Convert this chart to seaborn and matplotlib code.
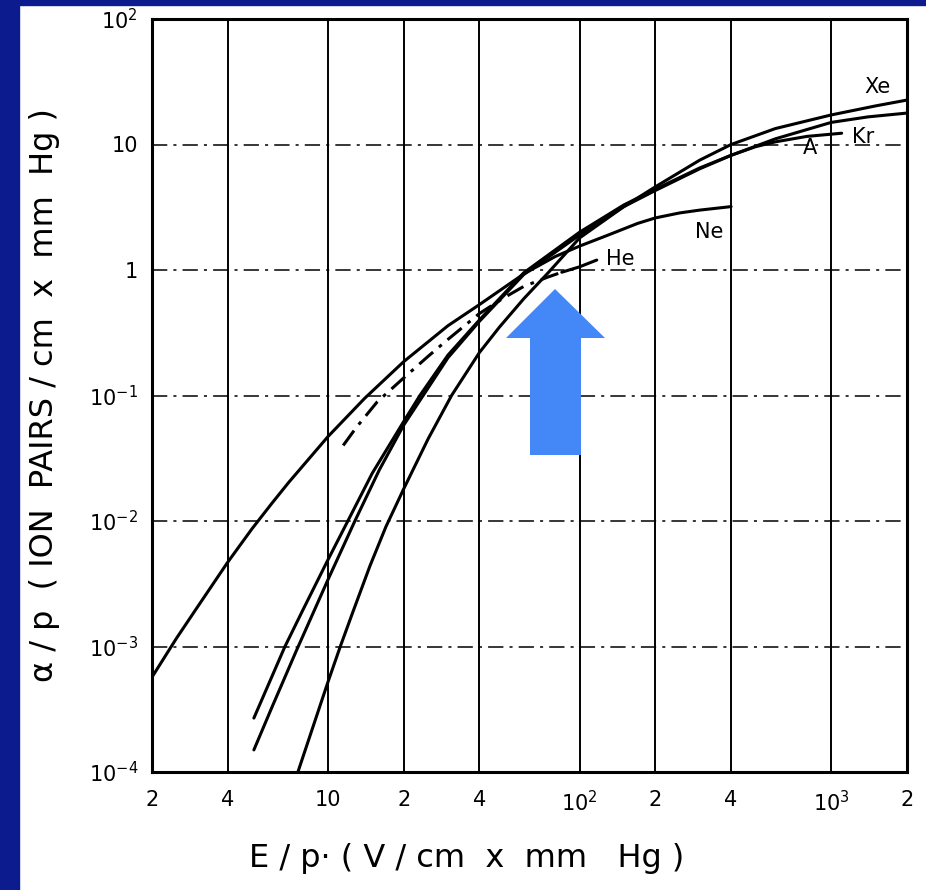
import matplotlib
matplotlib.use("Agg")
import matplotlib.pyplot as plt
import seaborn as sns
from matplotlib.patches import Polygon, Rectangle
from matplotlib.ticker import FixedLocator, FixedFormatter, NullLocator

# ---------------- data ----------------
ne_x = [2, 2.5, 3, 4, 5, 6, 7, 10, 14, 20, 30, 40, 60, 80, 100, 130, 170, 200,
        250, 300, 400]
ne_y = [5.7e-4, 1.16e-3, 2.0e-3, 4.7e-3, 8.7e-3, 0.0139, 0.0204, 0.047, 0.095,
        0.186, 0.36, 0.53, 0.93, 1.28, 1.55, 1.9, 2.35, 2.6, 2.85, 3.0, 3.2]

he_x = [11.5, 13, 15.7, 20, 25, 30, 40, 50, 60, 75, 85, 100, 117]
he_y = [0.040, 0.056, 0.089, 0.138, 0.205, 0.28, 0.45, 0.60, 0.74, 0.88, 0.96, 1.06, 1.2]
he_solid_from = 10   # index where the He curve turns from dash-dot to solid

xe_x = [7.6, 10, 11.2, 12.5, 14.7, 17, 20, 25, 31, 40, 48, 60, 75, 100, 150, 200,
        300, 400, 600, 1000, 1500, 2000]
xe_y = [1e-4, 5.2e-4, 1e-3, 1.83e-3, 4.4e-3, 9.0e-3, 0.018, 0.045, 0.1, 0.22, 0.35,
        0.59, 0.95, 1.8, 3.2, 4.6, 7.5, 10.0, 13.4, 17.2, 20.3, 22.6]

kr_x = [5.08, 6.75, 8, 10, 12, 15, 20, 23.2, 30, 40, 60, 100, 150, 200, 300, 400,
        600, 1000, 1400, 2000]
kr_y = [2.69e-4, 1e-3, 2.0e-3, 4.9e-3, 1e-2, 0.024, 0.062, 0.1, 0.21, 0.40, 0.95,
        2.0, 3.3, 4.4, 6.5, 8.2, 11.1, 15.0, 16.6, 17.8]

a_x = [5.08, 6, 7.5, 10, 12.8, 16, 20, 30, 40, 60, 100, 150, 200, 300, 400, 500,
       600, 800, 1100]
a_y = [1.5e-4, 3.3e-4, 9.3e-4, 3.4e-3, 1e-2, 0.0255, 0.058, 0.2, 0.39, 0.92, 1.9,
       3.2, 4.3, 6.4, 8.2, 9.6, 10.5, 11.6, 12.3]

x_ticks = [2, 4, 10, 20, 40, 100, 200, 400, 1000, 2000]
x_tick_labels = ["2", "4", "10", "2", "4", "10$^2$", "2", "4", "10$^3$", "2"]
y_ticks = [1e-4, 1e-3, 1e-2, 1e-1, 1, 10, 100]
y_tick_labels = ["10$^{-4}$", "10$^{-3}$", "10$^{-2}$", "10$^{-1}$", "1", "10", "10$^2$"]

# ---------------- figure ----------------
sns.set_theme(style="white")
plt.rcParams["font.family"] = ["DejaVu Sans"]
plt.rcParams["mathtext.fontset"] = "dejavusans"

W, H = 926, 890
fig = plt.figure(figsize=(W / 100, H / 100), dpi=100)
fig.patch.set_facecolor("white")
blue = "#0c1c8e"
fig.add_artist(Rectangle((0, 0), 19 / W, 1, transform=fig.transFigure,
                         color=blue, zorder=0))
fig.add_artist(Rectangle((0, 1 - 5 / H), 1, 5 / H, transform=fig.transFigure,
                         color=blue, zorder=0))

ax = fig.add_axes([152 / W, 1 - 772 / H, (907 - 152) / W, (772 - 19) / H])
ax.set_facecolor("white")

lw = 2.2
line_kw = dict(ax=ax, color="black", lw=lw, estimator=None, sort=False,
               solid_joinstyle="round", solid_capstyle="round")
for xs, ys in [(ne_x, ne_y), (xe_x, xe_y), (kr_x, kr_y), (a_x, a_y)]:
    sns.lineplot(x=xs, y=ys, **line_kw)
sns.lineplot(x=he_x[:he_solid_from + 1], y=he_y[:he_solid_from + 1],
             linestyle=(0, (6, 2.5, 1.2, 2.5)), **line_kw)
sns.lineplot(x=he_x[he_solid_from:], y=he_y[he_solid_from:], **line_kw)

ax.set_xscale("log")
ax.set_yscale("log")
ax.set_xlim(2, 2000)
ax.set_ylim(1e-4, 1e2)
ax.set_xlabel("")
ax.set_ylabel("")

ax.xaxis.set_major_locator(FixedLocator(x_ticks))
ax.xaxis.set_major_formatter(FixedFormatter(x_tick_labels))
ax.yaxis.set_major_locator(FixedLocator(y_ticks))
ax.yaxis.set_major_formatter(FixedFormatter(y_tick_labels))
ax.xaxis.set_minor_locator(NullLocator())
ax.yaxis.set_minor_locator(NullLocator())
ax.tick_params(axis="both", length=0, labelsize=15, colors="black")
ax.tick_params(axis="x", pad=13)
ax.tick_params(axis="y", pad=10)

ax.xaxis.grid(True, color="black", lw=1.4, ls="-")
ax.yaxis.grid(True, color="black", lw=1.1, ls=(0, (10, 4, 2, 4)))
ax.set_axisbelow(True)
for s in ax.spines.values():
    s.set_color("black")
    s.set_linewidth(2.2)

# curve labels, placed relative to each curve's end point
lab_kw = dict(textcoords="offset pixels", ha="center", va="center",
              fontsize=15, color="black")
ax.annotate("Xe", xy=(xe_x[-1], xe_y[-1]), xytext=(-29, 13), **lab_kw)
ax.annotate("Kr", xy=(kr_x[-1], kr_y[-1]), xytext=(-44, -24), **lab_kw)
ax.annotate("A", xy=(a_x[-1], a_y[-1]), xytext=(-32, -15), **lab_kw)
ax.annotate("Ne", xy=(ne_x[-1], ne_y[-1]), xytext=(-22, -25), **lab_kw)
ax.annotate("He", xy=(he_x[-1], he_y[-1]), xytext=(24, 1), **lab_kw)

# axis titles
fig.text(45 / W, 1 - 395 / H, "α / p  ( ION  PAIRS / cm  x  mm  Hg )", rotation=90,
         ha="center", va="center", fontsize=23, color="black")
fig.text(467 / W, 1 - 858 / H, "E / p· ( V / cm  x  mm   Hg )", ha="center",
         va="center", fontsize=23, color="black")

# blue highlight arrow
arrow_px = [(555, 289), (605, 338), (581, 338), (581, 455), (530, 455),
            (530, 338), (506, 338)]
fig.add_artist(Polygon([(x / W, 1 - y / H) for x, y in arrow_px], closed=True,
                       transform=fig.transFigure, facecolor="#4487f7",
                       edgecolor="none", zorder=5))

fig.savefig("out.png", dpi=100, facecolor=fig.get_facecolor())
